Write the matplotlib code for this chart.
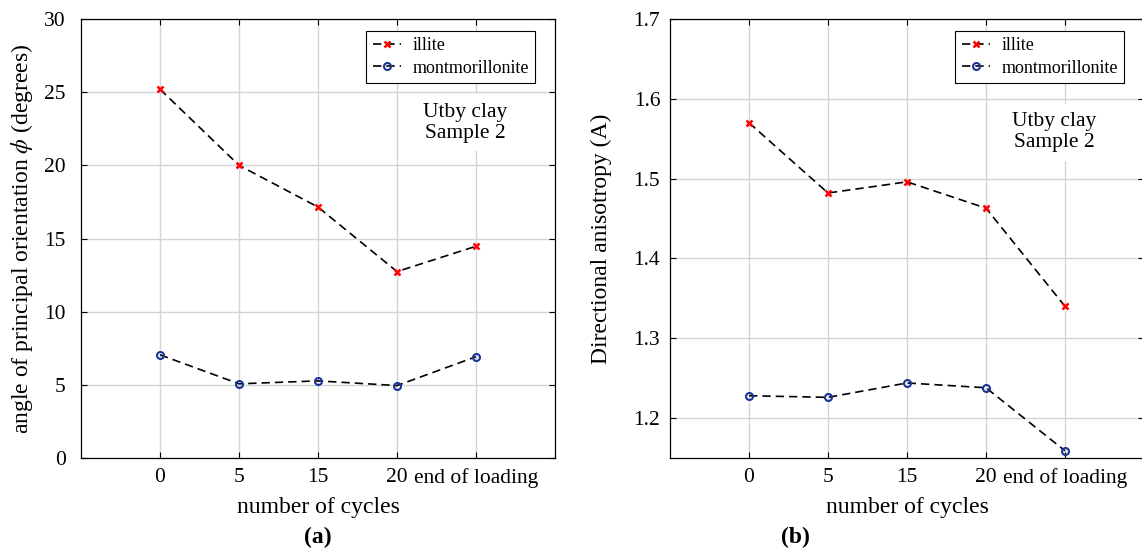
import matplotlib
matplotlib.use("Agg")
import matplotlib.pyplot as plt

plt.rcParams['font.family'] = ['Liberation Serif', 'DejaVu Serif']
plt.rcParams['mathtext.fontset'] = 'stix'

# data
positions = [1, 2, 3, 4, 5]
cycle_labels = ["0", "5", "15", "20", "end of loading"]

angle_illite = [25.2, 20.0, 17.15, 12.74, 14.47]
angle_mont = [7.05, 5.07, 5.27, 4.95, 6.92]

aniso_illite = [1.570, 1.482, 1.496, 1.463, 1.340]
aniso_mont = [1.228, 1.226, 1.244, 1.238, 1.159]

W, H = 1142, 555


def style_axes(ax, ypad):
    ax.set_xlim(0, 6)
    ax.set_xticks(positions)
    ax.set_xticklabels(cycle_labels)
    ax.grid(True, color="#d4d4d4", linewidth=1.0)
    ax.set_axisbelow(True)
    ax.tick_params(direction="in", top=True, right=True, labelsize=15.5,
                   length=4, width=0.8)
    ax.tick_params(axis="x", pad=7)
    ax.tick_params(axis="y", pad=ypad)
    for s in ax.spines.values():
        s.set_linewidth(0.9)
    ax.set_xlabel("number of cycles", fontsize=17, labelpad=7)


def draw(ax, y1, y2, txt_y):
    ax.plot(positions, y1, color="black", ls=(0, (5, 3)), lw=1.2, marker="x", ms=4,
            mec="red", mew=1.8, label="illite", zorder=3)
    ax.plot(positions, y2, color="black", ls=(0, (5, 3)), lw=1.2, marker="o", ms=5,
            mfc="none", mec="#1a3399", mew=1.5, label="montmorillonite", zorder=3)
    leg = ax.legend(loc="upper right", bbox_to_anchor=(0.958, 0.973),
                    fontsize=13, frameon=True, fancybox=False, framealpha=1,
                    edgecolor="black", borderaxespad=0, handlelength=1.6,
                    labelspacing=0.3, borderpad=0.35, handletextpad=0.6)
    leg.get_frame().set_linewidth(0.8)
    ax.text(0.81, txt_y, "Utby clay\nSample 2", transform=ax.transAxes,
            ha="center", va="center", fontsize=15.5, linespacing=1.15,
            bbox=dict(facecolor="white", edgecolor="none", pad=6), zorder=2)


fig = plt.figure(figsize=(W / 100, H / 100), dpi=100)

ax1 = fig.add_axes([81 / W, (H - 458) / H, 474 / W, 439 / H])
draw(ax1, angle_illite, angle_mont, 0.764)
style_axes(ax1, 11)
ax1.set_ylim(0, 30)
ax1.set_yticks(range(0, 31, 5))
ax1.set_ylabel(r"angle of principal orientation $\phi$ (degrees)", fontsize=17)
ax1.yaxis.set_label_coords(-0.097, 0.5)

ax2 = fig.add_axes([670 / W, (H - 458) / H, 474 / W, 439 / H])
draw(ax2, aniso_illite, aniso_mont, 0.742)
style_axes(ax2, 7)
ax2.set_ylim(1.15, 1.7)
ax2.set_yticks([1.2, 1.3, 1.4, 1.5, 1.6, 1.7])
ax2.set_ylabel("Directional anisotropy (A)", fontsize=17)
ax2.yaxis.set_label_coords(-0.122, 0.5)

fig.text(318 / W, 1 - 537 / H, "(a)", ha="center", va="center",
         fontsize=17, fontweight="bold")
fig.text(795 / W, 1 - 537 / H, "(b)", ha="center", va="center",
         fontsize=17, fontweight="bold")

fig.savefig("out.png", dpi=100)
